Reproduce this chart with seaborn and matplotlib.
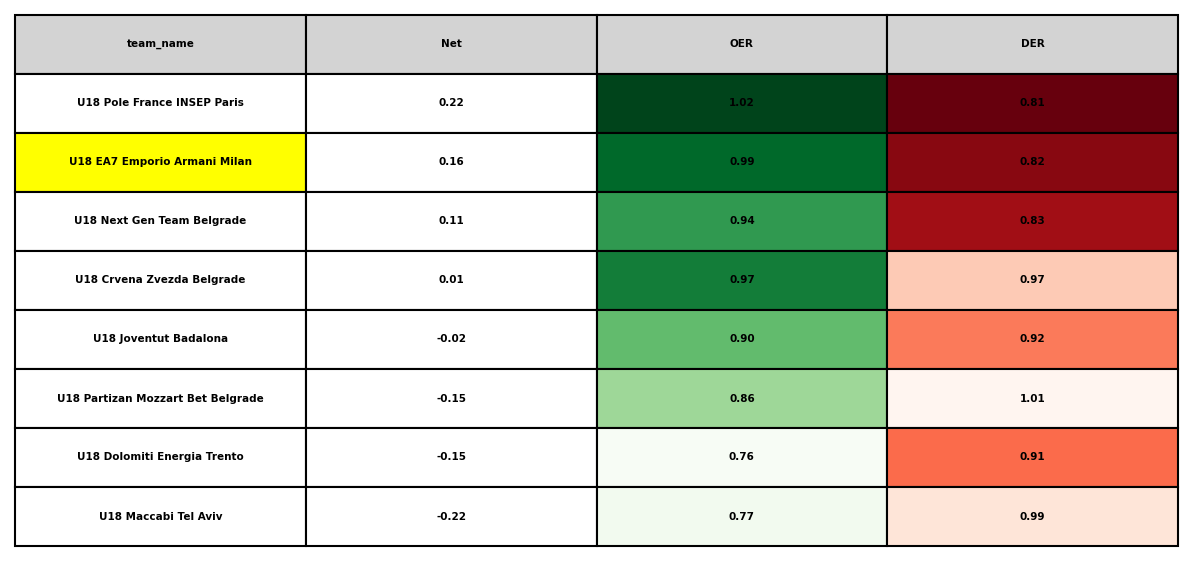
import matplotlib
matplotlib.use("Agg")
import matplotlib.pyplot as plt
import matplotlib.colors as mcolors
import seaborn as sns
import pandas as pd

# data
team_name = [
    "U18 Pole France INSEP Paris",
    "U18 EA7 Emporio Armani Milan",
    "U18 Next Gen Team Belgrade",
    "U18 Crvena Zvezda Belgrade",
    "U18 Joventut Badalona",
    "U18 Partizan Mozzart Bet Belgrade",
    "U18 Dolomiti Energia Trento",
    "U18 Maccabi Tel Aviv",
]
net = [0.22, 0.16, 0.11, 0.01, -0.02, -0.15, -0.15, -0.22]
oer = [1.02, 0.99, 0.94, 0.97, 0.902, 0.86, 0.76, 0.77]
der = [0.81, 0.824, 0.834, 0.97, 0.92, 1.01, 0.91, 0.99]
highlight_team = "U18 EA7 Emporio Armani Milan"

df = pd.DataFrame({"team_name": team_name, "Net": net, "OER": oer, "DER": der})

sns.set_theme(style="white")
plt.rcParams["font.family"] = ["DejaVu Sans"]

greens = sns.color_palette("Greens", as_cmap=True)
reds_r = sns.color_palette("Reds_r", as_cmap=True)
oer_norm = mcolors.Normalize(df["OER"].min(), df["OER"].max())
der_norm = mcolors.Normalize(df["DER"].min(), df["DER"].max())

cols = list(df.columns)
cell_text = []
cell_colours = []
for _, row in df.iterrows():
    cell_text.append([row["team_name"], f"{row['Net']:.2f}",
                      f"{row['OER']:.2f}", f"{row['DER']:.2f}"])
    name_clr = "yellow" if row["team_name"] == highlight_team else "white"
    cell_colours.append([name_clr, "white",
                         greens(oer_norm(row["OER"])),
                         reds_r(der_norm(row["DER"]))])

fig = plt.figure(figsize=(11.92, 5.61), dpi=100)
ax = fig.add_axes([15 / 1192, 15 / 561, 1163 / 1192, 531 / 561])
ax.axis("off")

tbl = ax.table(cellText=cell_text, cellColours=cell_colours,
               colLabels=cols, colColours=["lightgray"] * len(cols),
               cellLoc="center", loc="center", bbox=[0, 0, 1, 1])
tbl.auto_set_font_size(False)
for (r, c), cell in tbl.get_celld().items():
    cell.set_linewidth(1.5)
    cell.set_edgecolor("black")
    cell.get_text().set_fontsize(7.5)
    cell.get_text().set_fontweight("bold")
    cell.get_text().set_color("black")

fig.savefig("out.png", dpi=100, facecolor="white")
plt.close(fig)
